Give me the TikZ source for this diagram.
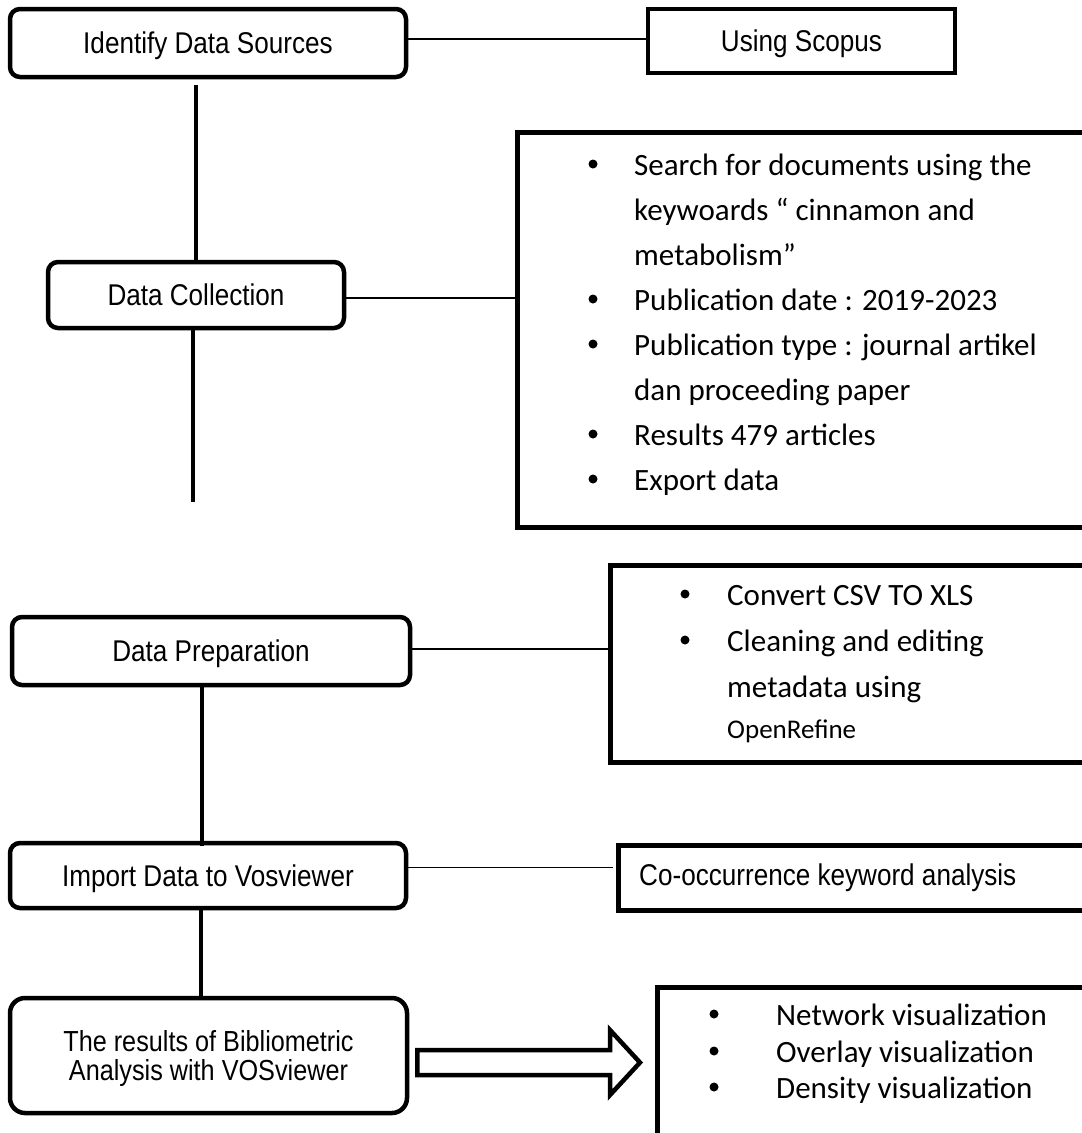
\documentclass[tikz,border=0pt]{standalone}
\usepackage{fontspec}
\usetikzlibrary{calc}
\newfontfamily\arialc[FakeStretch=0.87]{Liberation Sans}
\newfontfamily\calib{Carlito}
\begin{document}
\begin{tikzpicture}[x=1pt,y=-1pt,
  rbox/.style={draw, line width=4.5pt, rounded corners=10pt, fill=white, inner sep=0pt,
    text depth=0pt, font=\arialc\fontsize{30}{34}\selectfont},
  sbox/.style={draw, line width=4.5pt, inner sep=0pt, anchor=north west},
  hline/.style={line width=1.5pt},
  vline/.style={line width=4.8pt},
  item/.style={anchor=base west, inner sep=0pt, font=\calib\fontsize{31}{36}\selectfont},
  atext/.style={anchor=base west, inner sep=0pt, font=\arialc\fontsize{30}{34}\selectfont},
  arrowsty/.style={line width=4.5pt, fill=white, line join=miter}]
\useasboundingbox (0,0) rectangle (1082,1133);
\clip (0,0) rectangle (1082,1133);
\fill[white] (0,0) rectangle (1082,1133);

% left column
\node[rbox, minimum width=396pt, minimum height=68pt] (id) at (208,43) {Identify Data Sources};
\node[rbox, minimum width=296pt, minimum height=66pt] (dc) at (196,295) {Data Collection};
\node[rbox, minimum width=398pt, minimum height=68pt] (dp) at (211,651) {Data Preparation};
\node[rbox, minimum width=396pt, minimum height=65pt] (im) at (208,875.5) {Import Data to Vosviewer};
\node[rbox, rounded corners=15pt, minimum width=397pt, minimum height=115pt, align=center,
  font=\arialc\fontsize{29}{29}\selectfont] (res) at (208.5,1055.5) {The results of Bibliometric\\Analysis with VOSviewer};

% right column boxes
\node[draw, line width=4.5pt, inner sep=0pt, minimum width=307pt, minimum height=64pt, text depth=0pt,
  font=\arialc\fontsize{30}{34}\selectfont] (sc) at (801.5,41) {Using Scopus};
\node[sbox, minimum width=568pt, minimum height=395pt] (bb) at (515,130) {};
\node[sbox, minimum width=482pt, minimum height=197pt] (cv) at (608,563) {};
\node[sbox, minimum width=474pt, minimum height=65pt] (co) at (616,843) {};
\node[sbox, minimum width=435pt, minimum height=160pt] (bx) at (655,985) {};

% big box text
\node[item] (t1) at (634,175) {Search for documents using the};
\node[item] (t2) at (634,220) {keywoards “ cinnamon and};
\node[item] (t3) at (634,265) {metabolism”};
\node[item] (t4) at (634,310) {Publication date : 2019-2023};
\node[item] (t5) at (634,355) {Publication type : journal artikel};
\node[item] (t6) at (634,400) {dan proceeding paper};
\node[item] (t7) at (634,445) {Results 479 articles};
\node[item] (t8) at (634,490) {Export data};
\foreach \yy in {164,299,344,434,479} \fill (593,\yy) circle (4.5pt);

% convert box text
\node[item] (c1) at (727,605) {Convert CSV TO XLS};
\node[item] (c2) at (727,651) {Cleaning and editing};
\node[item] (c3) at (727,697) {metadata using};
\node[item, font=\calib\fontsize{27}{32}\selectfont] (c4) at (727,738) {OpenRefine};
\foreach \yy in {594,640} \fill (685,\yy) circle (4.5pt);

% co-occurrence text
\node[atext] (cot) at (639,885) {Co-occurrence keyword analysis};

% bottom box text
\node[item] (v1) at (776,1025) {Network visualization};
\node[item] (v2) at (776,1062) {Overlay visualization};
\node[item] (v3) at (776,1098) {Density visualization};
\foreach \yy in {1014,1051,1087} \fill (714,\yy) circle (4.5pt);

% vertical connectors
\coordinate (l2e) at (193,502);
\draw[vline] ([xshift=-12pt,yshift=-6pt]id.south) -- ([xshift=-12pt]id.south |- dc.north);
\draw[vline] (dc.south -| l2e) -- (l2e);
\draw[vline] ([xshift=-9pt]dp.south) -- ([xshift=-9pt,yshift=-5pt]dp.south |- im.north);
\draw[vline] ([xshift=-7pt]im.south) -- ([xshift=-7pt]im.south |- res.north);

% horizontal connectors
\draw[hline] ([yshift=4pt]id.east) -- ([yshift=4pt]id.east -| sc.west);
\draw[hline] ([yshift=-3pt]dc.east) -- ([yshift=-3pt]dc.east -| bb.west);
\draw[hline] ([yshift=2pt]dp.east) -- ([yshift=2pt]dp.east -| cv.west);
\draw[hline] ([yshift=8pt]im.east) -- ([xshift=-3pt,yshift=8pt]im.east -| co.west);

% block arrow
\path ([xshift=8pt]res.east |- 0,1062.5) coordinate (aS);
\path ([xshift=-15pt]bx.west |- aS) coordinate (aE);
\draw[arrowsty] ($(aS)+(0,-12.5)$) -- ($(aE)+(-30,-12.5)$) -- ($(aE)+(-30,-32.5)$) -- (aE)
  -- ($(aE)+(-30,32.5)$) -- ($(aE)+(-30,12.5)$) -- ($(aS)+(0,12.5)$) -- cycle;
\end{tikzpicture}
\end{document}
